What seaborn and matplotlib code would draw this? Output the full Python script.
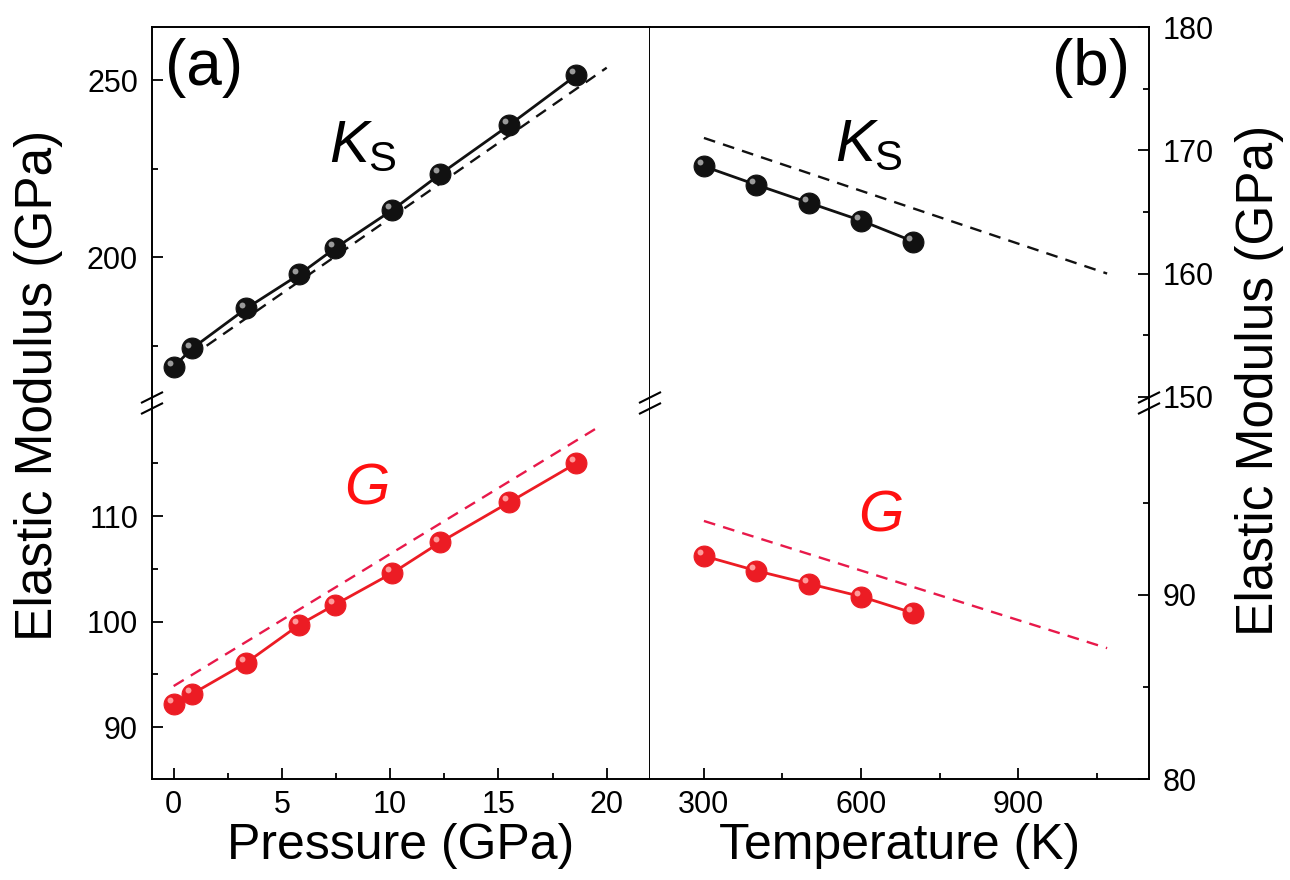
import numpy as np
import pandas as pd
import seaborn as sns
import matplotlib
matplotlib.use("Agg")
import matplotlib.pyplot as plt
from matplotlib.ticker import FixedLocator, NullLocator
from matplotlib.transforms import offset_copy

# ---------------- data ----------------
pressure = [0, 0.85, 3.35, 5.8, 7.45, 10.1, 12.3, 15.5, 18.6]
ks_pressure = [169.0, 174.2, 185.5, 195.1, 202.5, 213.3, 223.4, 237.3, 251.4]
g_pressure = [92.2, 93.15, 96.1, 99.7, 101.6, 104.6, 107.5, 111.3, 115.0]

pressure_dash_ks = [0, 20]
ks_pressure_dash = [168.5, 253.5]
pressure_dash_g = [0, 19.6]
g_pressure_dash = [93.9, 118.4]

temperature = [300, 400, 500, 600, 700]
ks_temperature = [168.7, 167.2, 165.75, 164.3, 162.6]
g_temperature = [92.1, 91.3, 90.6, 89.9, 89.0]

temperature_dash = [300, 1070]
ks_temperature_dash = [171.0, 160.0]
g_temperature_dash = [94.0, 87.1]

p_major = [0, 5, 10, 15, 20]
p_minor = [2.5, 7.5, 12.5, 17.5]
t_major = [300, 600, 900]
t_minor = [450, 750, 1050]

# ---------------- style ----------------
sns.set_theme(style="ticks")
plt.rcParams["font.family"] = ["Liberation Sans", "DejaVu Sans"]
plt.rcParams["mathtext.fontset"] = "custom"
plt.rcParams["mathtext.rm"] = "Liberation Sans"
plt.rcParams["mathtext.it"] = "Liberation Sans:italic"
plt.rcParams["axes.linewidth"] = 1.4
for k in ("text.color", "axes.labelcolor", "xtick.color", "ytick.color",
          "axes.edgecolor"):
    plt.rcParams[k] = "black"

BLACK = "#111111"
BLACK_HL = "#9a9a9a"
RED = "#ec1c24"
RED_HL = "#ff9a9a"
RED_DASH = "#e8194a"

fig = plt.figure(figsize=(12.9, 8.8), dpi=100)

L, M, R = 152 / 1290, 650 / 1290, 1149 / 1290
TOP, BRK, BOT = 1 - 27 / 880, 1 - 403 / 880, 1 - 779 / 880

axTL = fig.add_axes([L, BRK, M - L, TOP - BRK])
axBL = fig.add_axes([L, BOT, M - L, BRK - BOT])
axTR = fig.add_axes([M, BRK, R - M, TOP - BRK])
axBR = fig.add_axes([M, BOT, R - M, BRK - BOT])


def series(ax, x, y, color, hl):
    df = pd.DataFrame({"x": x, "y": y})
    sns.lineplot(data=df, x="x", y="y", ax=ax, color=color, lw=2.0,
                 marker="o", markersize=15, markeredgecolor=color,
                 markeredgewidth=0.8, sort=False, zorder=4)
    tr = offset_copy(ax.transData, fig=fig, x=-2.8, y=2.8, units="points")
    ax.scatter(df["x"], df["y"], s=18, color=hl, transform=tr, zorder=6,
               linewidths=0)


def dashed(ax, x, y, color):
    df = pd.DataFrame({"x": x, "y": y})
    sns.lineplot(data=df, x="x", y="y", ax=ax, color=color, lw=1.7,
                 linestyle=(0, (5, 3.5)), sort=False, zorder=3)


dashed(axTL, pressure_dash_ks, ks_pressure_dash, BLACK)
series(axTL, pressure, ks_pressure, BLACK, BLACK_HL)
dashed(axBL, pressure_dash_g, g_pressure_dash, RED_DASH)
series(axBL, pressure, g_pressure, RED, RED_HL)
dashed(axTR, temperature_dash, ks_temperature_dash, BLACK)
series(axTR, temperature, ks_temperature, BLACK, BLACK_HL)
dashed(axBR, temperature_dash, g_temperature_dash, RED_DASH)
series(axBR, temperature, g_temperature, RED, RED_HL)

# limits
for ax in (axTL, axBL):
    ax.set_xlim(-1, 22)
for ax in (axTR, axBR):
    ax.set_xlim(197, 1150)
axTL.set_ylim(158.8, 265)
axBL.set_ylim(85.1, 120.7)
axTR.set_ylim(149.5, 180)
axBR.set_ylim(80, 100.4)

TICK_FS = 22
for ax in (axTL, axBL, axTR, axBR):
    ax.set_xlabel("")
    ax.set_ylabel("")
    ax.tick_params(which="both", direction="in", width=1.3, colors="black",
                   labelsize=TICK_FS)
    ax.tick_params(which="major", length=8)
    ax.tick_params(which="minor", length=4.5)
    for s in ax.spines.values():
        s.set_color("black")
        s.set_linewidth(1.4)

# top rows: no x ticks, no bottom spine
for ax in (axTL, axTR):
    ax.spines["bottom"].set_visible(False)
    ax.xaxis.set_major_locator(NullLocator())
    ax.xaxis.set_minor_locator(NullLocator())
for ax in (axBL, axBR):
    ax.spines["top"].set_visible(False)
    ax.tick_params(axis="x", which="both", top=False, pad=8)

# left column
for ax in (axTL, axBL):
    ax.tick_params(axis="y", which="both", left=True, right=False, pad=10)
axTL.yaxis.set_major_locator(FixedLocator([200, 250]))
axTL.yaxis.set_minor_locator(FixedLocator([175, 225]))
axBL.yaxis.set_major_locator(FixedLocator([90, 100, 110]))
axBL.yaxis.set_minor_locator(FixedLocator([95, 105, 115]))
axBL.xaxis.set_major_locator(FixedLocator(p_major))
axBL.xaxis.set_minor_locator(FixedLocator(p_minor))
axBL.set_xticklabels([str(v) for v in p_major])

# right column
for ax in (axTR, axBR):
    ax.spines["left"].set_visible(False)
    ax.yaxis.tick_right()
    ax.tick_params(axis="y", which="both", left=False, right=True, pad=10)
axTR.yaxis.set_major_locator(FixedLocator([150, 160, 170, 180]))
axTR.yaxis.set_minor_locator(FixedLocator([155, 165, 175]))
axBR.yaxis.set_major_locator(FixedLocator([80, 90]))
axBR.yaxis.set_minor_locator(FixedLocator([85, 95]))
axBR.xaxis.set_major_locator(FixedLocator(t_major))
axBR.xaxis.set_minor_locator(FixedLocator(t_minor))
axBR.set_xticklabels([str(v) for v in t_major])

LAB_FS = 36
YLAB_FS = 37
axBL.set_xlabel("Pressure (GPa)", fontsize=LAB_FS, labelpad=2)
axBR.set_xlabel("Temperature (K)", fontsize=LAB_FS, labelpad=2)
fig.text(39 / 1290, 1 - 385 / 880, "Elastic Modulus (GPa)", rotation=90,
         ha="center", va="center", fontsize=YLAB_FS)
fig.text(1260 / 1290, 1 - 380 / 880, "Elastic Modulus (GPa)", rotation=90,
         ha="center", va="center", fontsize=YLAB_FS)

# panel letters and labels
axTL.text(0.026, 0.972, "(a)", transform=axTL.transAxes, ha="left", va="top",
          fontsize=46)
axTR.text(0.962, 0.972, "(b)", transform=axTR.transAxes, ha="right", va="top",
          fontsize=46)
axTL.text(0.355, 0.642, r"$K_{\mathrm{S}}$", transform=axTL.transAxes,
          ha="left", va="baseline", fontsize=43)
axTR.text(0.37, 0.645, r"$K_{\mathrm{S}}$", transform=axTR.transAxes,
          ha="left", va="baseline", fontsize=43)
axBL.text(0.385, 0.73, "G", transform=axBL.transAxes, ha="left",
          va="baseline", fontsize=42, color="#ff1010", style="italic")
axBR.text(0.417, 0.657, "G", transform=axBR.transAxes, ha="left",
          va="baseline", fontsize=42, color="#ff1010", style="italic")

# axis-break marks
dx, dy, gap = 11 / 1290, 5.5 / 880, 11 / 880
for xb in (L, M, R):
    for off in (gap / 2, -gap / 2):
        yc = BRK + off
        fig.add_artist(plt.Line2D([xb - dx, xb + dx], [yc - dy, yc + dy],
                                  transform=fig.transFigure, color="black",
                                  lw=1.5, solid_capstyle="butt"))

fig.savefig("out.png", dpi=100, facecolor="white")
